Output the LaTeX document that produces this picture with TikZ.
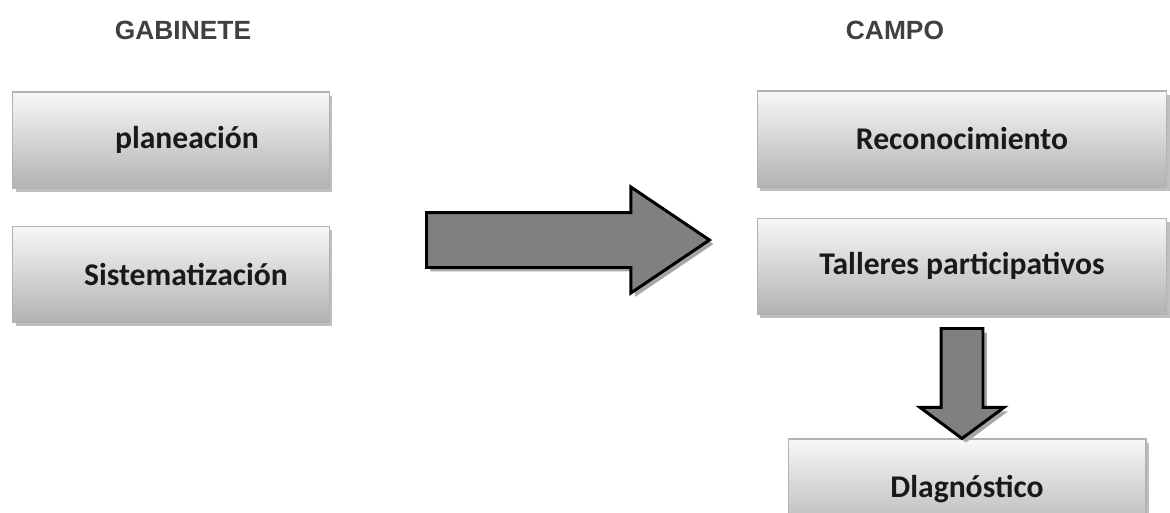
\documentclass[tikz,border=0pt]{standalone}
\usepackage{fontspec}
\setmainfont{Carlito}
\newfontfamily\headfont{Liberation Sans}
\usetikzlibrary{positioning,shapes.arrows,shadows}

\begin{document}
\begin{tikzpicture}[
  x=0.02cm, y=-0.02cm,
  font=\fontsize{18}{20}\selectfont\bfseries,
  head/.style={font=\headfont\fontsize{15}{17}\selectfont\bfseries, text=black!75},
  box/.style={rectangle, draw=black!30, line width=0.6pt, top color=black!3, bottom color=black!30, text=black!90,
    minimum width=6.34cm, minimum height=1.92cm,
    drop shadow={opacity=0.5, shadow xshift=0.6mm, shadow yshift=-0.7mm}},
  wbox/.style={box, minimum width=8.2cm},
  blk/.style={single arrow, draw=black, line width=1.7pt, fill=black!50, inner xsep=0pt, anchor=tail,
    drop shadow={fill=black!35, opacity=1, shadow xshift=0.8mm, shadow yshift=-0.8mm}}
]
\clip (0,0) rectangle (1170,512);
% titulos
\node[head] (gab) at (183,30) {GABINETE};
\node[head] (cam) at (895,30) {CAMPO};
% gabinete
\node[box] (plan) at (171,140) {\hspace*{0.64cm}planeación};
\node[box, below=0.74cm of plan] (sist) {\hspace*{0.6cm}Sistematización};
% campo
\node[wbox] (recon) at (962,139) {Reconocimiento};
\node[wbox, below=0.6cm of recon] (tall) {Talleres participativos};
\node[box, minimum width=7.16cm, minimum height=2cm] (diag) at (967,489) {Dlagnóstico};
% flechas
\node[blk, minimum height=5.66cm, minimum width=2.06cm, inner ysep=0.52cm,
  single arrow head extend=0.51cm, single arrow tip angle=68] (go) at (425,240) {};
\node[blk, rotate=-90, minimum height=2.2cm, minimum width=1.62cm, inner ysep=0.39cm,
  single arrow head extend=0.42cm, single arrow tip angle=107] (down) at (962,327) {};
\end{tikzpicture}
\end{document}
